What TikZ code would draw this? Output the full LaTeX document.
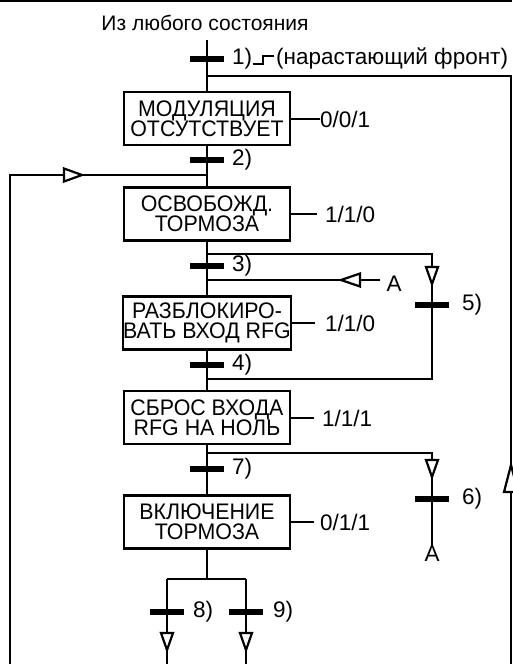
\documentclass[tikz,border=0pt]{standalone}
\usepackage{fontspec}
\setmainfont{Liberation Sans}
\newfontfamily\boxfont[FakeStretch=0.95]{Liberation Sans}
\newcommand{\myfs}{\fontsize{22.5}{20.4}\selectfont}
\newcommand{\boxfs}{\boxfont\fontsize{22.5}{20.4}\selectfont}
\begin{document}
\begin{tikzpicture}[x=1pt,y=-1pt,
  ln/.style={line width=2.6pt},
  stepbox/.style={draw,line width=2.6pt,minimum width=166pt,minimum height=53pt,inner sep=0pt,align=center,font=\boxfs},
  bar/.style={fill=black,minimum width=33pt,minimum height=5pt,inner sep=0pt},
  lbl/.style={anchor=west,inner sep=0pt,font=\myfs},
  txt/.style={inner sep=0pt,font=\myfs},
  arrR/.pic={\draw[line width=2.2pt,fill=white] (0,0) -- (-18,-6.5) -- (-18,6.5) -- cycle;},
  arrL/.pic={\draw[line width=2.2pt,fill=white] (0,0) -- (19,-6.5) -- (19,6.5) -- cycle;},
  arrD/.pic={\draw[line width=2.2pt,fill=white] (0,0) -- (-6,-17) -- (6,-17) -- cycle;},
  arrU/.pic={\draw[line width=2.2pt,fill=white] (0,0) -- (-7,27) -- (7,27) -- cycle;}
]
\useasboundingbox (0,0) rectangle (512,664);
\draw[line width=2pt] (0,1) -- (512,1);

% title
\node[inner sep=0pt,font=\fontsize{21}{21}\selectfont] (title) at (205,23) {Из любого состояния};

% steps
\node[stepbox] (s1) at (207,118.5) {МОДУЛЯЦИЯ\\ОТСУТСТВУЕТ};
\node[stepbox] (s2) at (207,214) {ОСВОБОЖД.\\ТОРМОЗА};
\node[stepbox] (s3) at (207,323) {РАЗБЛОКИРО-\\ВАТЬ ВХОД RFG};
\node[stepbox] (s4) at (207,417.5) {СБРОС ВХОДА\\RFG НА НОЛЬ};
\node[stepbox] (s5) at (207,522) {ВКЛЮЧЕНИЕ\\ТОРМОЗА};

% coordinates
\coordinate (top) at (207,40);
\coordinate (r1) at (207,76);
\coordinate (rb) at (511,664);
\coordinate (l1) at (207,175);
\coordinate (lb) at (10,664);
\coordinate (b5a) at (207,254);
\coordinate (b5b) at (207,379);
\coordinate (a1) at (207,280);
\coordinate (b6a) at (207,453);
\coordinate (j) at (207,579);
\coordinate (j8) at (167,579);
\coordinate (j9) at (246,579);
\coordinate (e8) at (167,664);
\coordinate (e9) at (246,664);

% transitions
\node[bar] (t1) at (207,59) {};
\node[bar] (t2) at (207,160) {};
\node[bar] (t3) at (207,266) {};
\node[bar] (t4) at (207,365) {};
\node[bar] (t7) at (207,469) {};
\node[bar] (t5) at (432,305) {};
\node[bar] (t6) at (432,499) {};
\node[bar] (t8) at (167,612) {};
\node[bar] (t9) at (246,612) {};

% main line
\draw[ln] (top) -- (s1.north);
\draw[ln] (s1.south) -- (s2.north);
\draw[ln] (s2.south) -- (s3.north);
\draw[ln] (s3.south) -- (s4.north);
\draw[ln] (s4.south) -- (s5.north);
\draw[ln] (s5.south) -- (j);
\draw[ln] (j8) -- (j9);
\draw[ln] (j8) -- (e8);
\draw[ln] (j9) -- (e9);

% loops
\draw[ln] (r1) -| (rb);
\draw[ln] (lb) |- (l1);
\draw[ln] (b5a) -| (t5.center) |- (b5b);
\node[txt] (A1) at (394,284) {A};
\coordinate (a1e) at (380,280);
\draw[ln] (a1e) -- (a1);
\node[txt] (A2) at (432,554) {A};
\draw[ln] (b6a) -| (A2.north);

% redraw bars on top
\foreach \t in {t1,t2,t3,t4,t5,t6,t7,t8,t9} \fill (\t.south west) rectangle (\t.north east);

% arrowheads
\pic at (82,175) {arrR};
\pic at (341,280) {arrL};
\pic at (432,284) {arrD};
\pic at (432,477) {arrD};
\pic at (167,650) {arrD};
\pic at (246,650) {arrD};
\pic at (511,465) {arrU};

% transition labels
\node[lbl] (n1) at (232,59) {1)};
\node[lbl] (n2) at (232,160) {2)};
\node[lbl] (n3) at (232,266) {3)};
\node[lbl] (n4) at (232,365) {4)};
\node[lbl] (n7) at (232,469) {7)};
\node[lbl] (n5) at (462,305) {5)};
\node[lbl] (n6) at (462,499) {6)};
\node[lbl] (n8) at (193,612) {8)};
\node[lbl] (n9) at (273,612) {9)};

% rising edge
\coordinate (f0) at (253,64);
\coordinate (f1) at (274,56);
\draw[line width=2.2pt] (f0) -- (263,64) -- (263,56) -- (f1);
\node[lbl] (front) at (276,58) {(нарастающий фронт)};

% outputs
\node[lbl] (o1) at (320,119) {0/0/1};
\draw[ln] (s1.east |- o1) -- (o1.west);
\node[lbl] (o2) at (325,214) {1/1/0};
\draw[ln] (s2.east |- o2) -- ++(26,0);
\node[lbl] (o3) at (325,323) {1/1/0};
\draw[ln] (s3.east |- o3) -- ++(23,0);
\node[lbl] (o4) at (322,418) {1/1/1};
\draw[ln] (s4.east |- o4) -- ++(23,0);
\node[lbl] (o5) at (320,522) {0/1/1};
\draw[ln] (s5.east |- o5) -- ++(23,0);
\end{tikzpicture}
\end{document}
